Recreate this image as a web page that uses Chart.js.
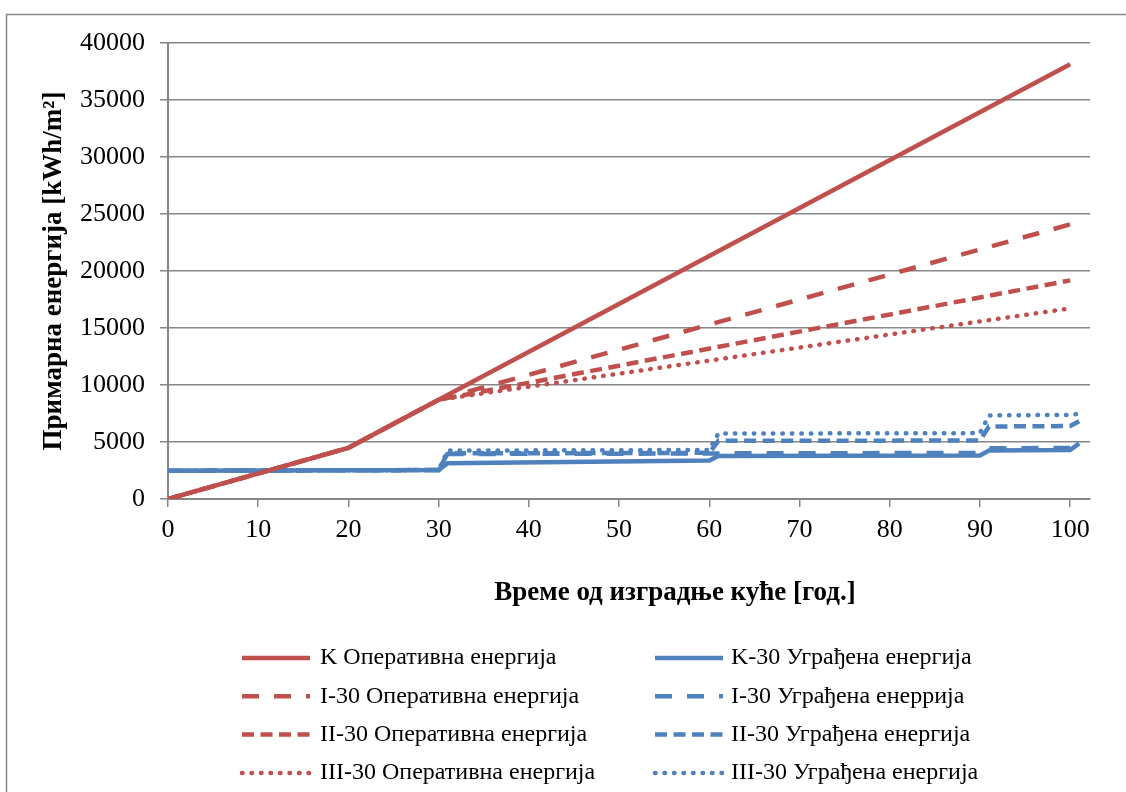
<!DOCTYPE html>
<html>
<head>
<meta charset="utf-8">
<script src="https://cdn.jsdelivr.net/npm/chart.js@4"></script>
<style>
  html, body { margin: 0; padding: 0; background: #fff; }
  #wrap { width: 1126px; height: 792px; }
</style>
</head>
<body>
<div id="wrap"><canvas id="energyChart" width="1126" height="792"></canvas></div>
<script>
// years where the lines bend / step
const opYears = [0, 20, 30, 100];
const embYears = [0, 30, 31, 60, 61, 90, 91, 100, 101];

// operative energy [kWh/m2]
const kOperative = [0, 4490, 8705, 38130];
const i30Operative = [0, 4490, 8705, 24090];
const ii30Operative = [0, 4490, 8705, 19175];
const iii30Operative = [0, 4490, 8705, 16720];

// embodied energy [kWh/m2]
const k30Embodied = [2480, 2540, 3140, 3380, 3770, 3820, 4260, 4300, 4880];
const i30Embodied = [2480, 2540, 3950, 3990, 4000, 4040, 4450, 4480, 5000];
const ii30Embodied = [2480, 2540, 4000, 4050, 5100, 5130, 6360, 6400, 6820];
const iii30Embodied = [2480, 2540, 4250, 4300, 5740, 5780, 7330, 7380, 7480];

const xTicks = [0, 10, 20, 30, 40, 50, 60, 70, 80, 90, 100];
const yTicks = [0, 5000, 10000, 15000, 20000, 25000, 30000, 35000, 40000];

const xTitle = 'Време од изградње куће [год.]';
const yTitle = 'Примарна енергија [kWh/m²]';

const red = '#C0504D';
const blue = '#4F81BD';
const gridGray = '#868686';
const serif = '"Liberation Serif", "Times New Roman", serif';

function pts(xs, ys) {
  return xs.map((x, i) => ({ x: x, y: ys[i] }));
}

function line(label, xs, ys, color, dash, cap) {
  return {
    label: label,
    data: pts(xs, ys),
    borderColor: color,
    backgroundColor: color,
    borderWidth: 4.5,
    borderDash: dash,
    borderCapStyle: cap || 'butt',
    pointRadius: 0,
    tension: 0,
    fill: false
  };
}

const longDash = [17, 15];
const dash = [12, 6.5];
const dot = [0.5, 9];

// legend order (row by row, two columns)
const datasets = [
  line('K Оперативна енергија', opYears, kOperative, red, []),
  line('K-30 Уграђена енергија', embYears, k30Embodied, blue, []),
  line('I-30 Оперативна енергија', opYears, i30Operative, red, longDash),
  line('I-30 Уграђена енеррија', embYears, i30Embodied, blue, longDash),
  line('II-30 Оперативна енергија', opYears, ii30Operative, red, dash),
  line('II-30 Уграђена енергија', embYears, ii30Embodied, blue, dash),
  line('III-30 Оперативна енергија', opYears, iii30Operative, red, dot, 'round'),
  line('III-30 Уграђена енергија', embYears, iii30Embodied, blue, dot, 'round')
];

// white background + outer frame
const framePlugin = {
  id: 'frame',
  beforeDraw(chart) {
    const ctx = chart.ctx;
    ctx.save();
    ctx.fillStyle = '#fff';
    ctx.fillRect(0, 0, chart.width, chart.height);
    ctx.strokeStyle = gridGray;
    ctx.lineWidth = 1.5;
    ctx.strokeRect(6.5, 14.5, 1300, 900);
    ctx.restore();
  }
};

// x title (sits right of the plot centre, like the original) and two column legend
const legendPlugin = {
  id: 'gridLegend',
  afterDraw(chart) {
    const ctx = chart.ctx;
    ctx.save();
    ctx.fillStyle = '#000';
    ctx.textBaseline = 'middle';
    ctx.textAlign = 'center';
    ctx.font = 'bold 27px ' + serif;
    ctx.fillText(xTitle, 675, 593);

    ctx.textAlign = 'left';
    ctx.font = '24px ' + serif;
    chart.data.datasets.forEach((ds, i) => {
      const col = i % 2;
      const row = Math.floor(i / 2);
      const lx = col === 0 ? 242 : 655;
      const tx = col === 0 ? 320 : 731;
      const y = 658 + row * 38.3;
      ctx.strokeStyle = ds.borderColor;
      ctx.lineWidth = ds.borderWidth;
      ctx.lineCap = ds.borderCapStyle;
      ctx.setLineDash(ds.borderDash);
      ctx.beginPath();
      ctx.moveTo(lx, y);
      ctx.lineTo(lx + 68, y);
      ctx.stroke();
      ctx.setLineDash([]);
      ctx.fillText(ds.label, tx, y);
    });
    ctx.restore();
  }
};

var chart = new Chart(document.getElementById('energyChart'), {
  type: 'line',
  data: { datasets: datasets },
  plugins: [framePlugin, legendPlugin],
  options: {
    responsive: false,
    animation: false,
    layout: { padding: { left: 0, top: 43, right: 36, bottom: 184 } },
    plugins: {
      legend: { display: false },
      tooltip: { enabled: false }
    },
    scales: {
      x: {
        type: 'linear',
        min: 0,
        max: 102.2,
        afterBuildTicks: s => { s.ticks = xTicks.map(v => ({ value: v })); },
        afterFit: s => { s.height = 109; },
        ticks: { color: '#000', font: { family: serif, size: 26 }, padding: 8, maxRotation: 0,
                 callback: v => String(v) },
        grid: { drawOnChartArea: false, drawTicks: true, tickLength: 8, color: gridGray, lineWidth: 1.5 },
        border: { color: gridGray, width: 2 }
      },
      y: {
        min: 0,
        max: 40000,
        afterBuildTicks: s => { s.ticks = yTicks.map(v => ({ value: v })); },
        afterFit: s => { s.width = 168; },
        ticks: { color: '#000', font: { family: serif, size: 26 }, padding: 15,
                 callback: v => String(v) },
        grid: { color: gridGray, lineWidth: 1.5, tickLength: 8 },
        border: { color: gridGray, width: 2 },
        title: {
          display: true,
          text: yTitle,
          color: '#000',
          font: { family: serif, size: 27, weight: 'bold' },
          padding: { top: 38, bottom: 0 }
        }
      }
    }
  }
});
</script>
</body>
</html>
